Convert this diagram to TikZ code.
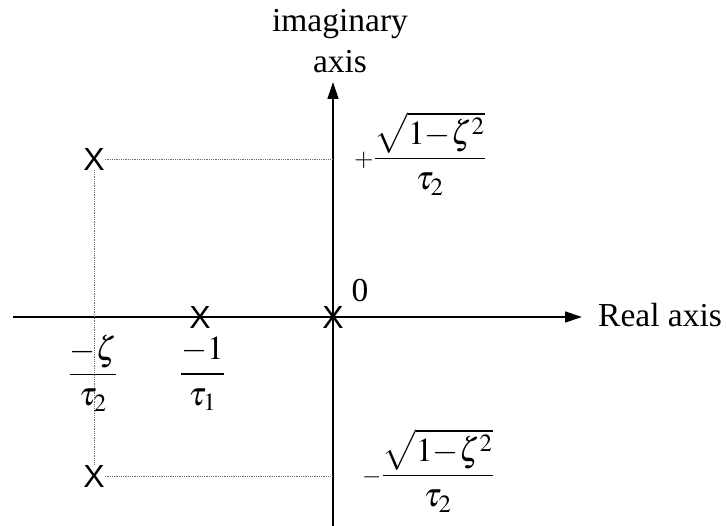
\documentclass[tikz,border=0pt]{standalone}
\usepackage{mathptmx}
\usepackage[no-math]{fontspec}
\setmainfont{Liberation Serif}
\newfontfamily\crossfont{Liberation Sans}
\usetikzlibrary{arrows.meta}
\definecolor{guidegray}{RGB}{110,110,110}

\begin{document}
\begin{tikzpicture}[
  x=1pt, y=-1pt,
  font=\fontsize{33.5}{41}\selectfont,
  axisline/.style={line width=1.3pt, -{Triangle[length=17pt,width=11pt]}},
  guide/.style={draw=guidegray, line width=0.8pt, densely dotted},
  pole/.style={font=\crossfont\fontsize{32}{36}\selectfont, inner sep=0pt},
  lbl/.style={inner sep=0pt}
]
  \useasboundingbox (0,0) rectangle (726,526);

  % axes
  \coordinate (xl) at (13,317);
  \coordinate (xr) at (582,317);
  \coordinate (yb) at (333,526);
  \coordinate (yt) at (333,82);
  \draw[axisline] (xl) -- (xr);
  \draw[axisline] (yb) -- (yt);

  % poles
  \foreach \n/\x/\y in {p0/333/317, p1/200/317, p2/94/159, p3/94/476} {
    \node[pole] (\n) at (\x,\y) {X};
  }

  % projections of the complex pair
  \coordinate (q2) at (333,159);
  \coordinate (q3) at (333,476);
  \draw[guide] (p2) -- (q2);
  \draw[guide] (p3) -- (q3);
  \draw[guide] (p2) -- (p3);

  % labels
  \node[lbl, anchor=north, align=center] (imlbl) at (340,9) {imaginary\\axis};
  \node[lbl, anchor=base west] (relbl) at (598,327) {Real axis};
  \node[lbl] (zero) at (360,291) {0};
  \node[lbl, anchor=base west] (wplus) at (354,167)
    {$\scriptstyle+\displaystyle\frac{\sqrt{1{-}\zeta^2}}{\tau_2}$};
  \node[lbl, anchor=base west] (wminus) at (362,484)
    {$\scriptstyle-\displaystyle\frac{\sqrt{1{-}\zeta^2}}{\tau_2}$};
  \node[lbl, anchor=base] (sig2) at (93,383) {$\displaystyle\frac{-\zeta}{\tau_2}$};
  \node[lbl, anchor=base] (sig1) at (202.5,382.5) {$\displaystyle\frac{-1}{\tau_1}$};
\end{tikzpicture}
\end{document}
